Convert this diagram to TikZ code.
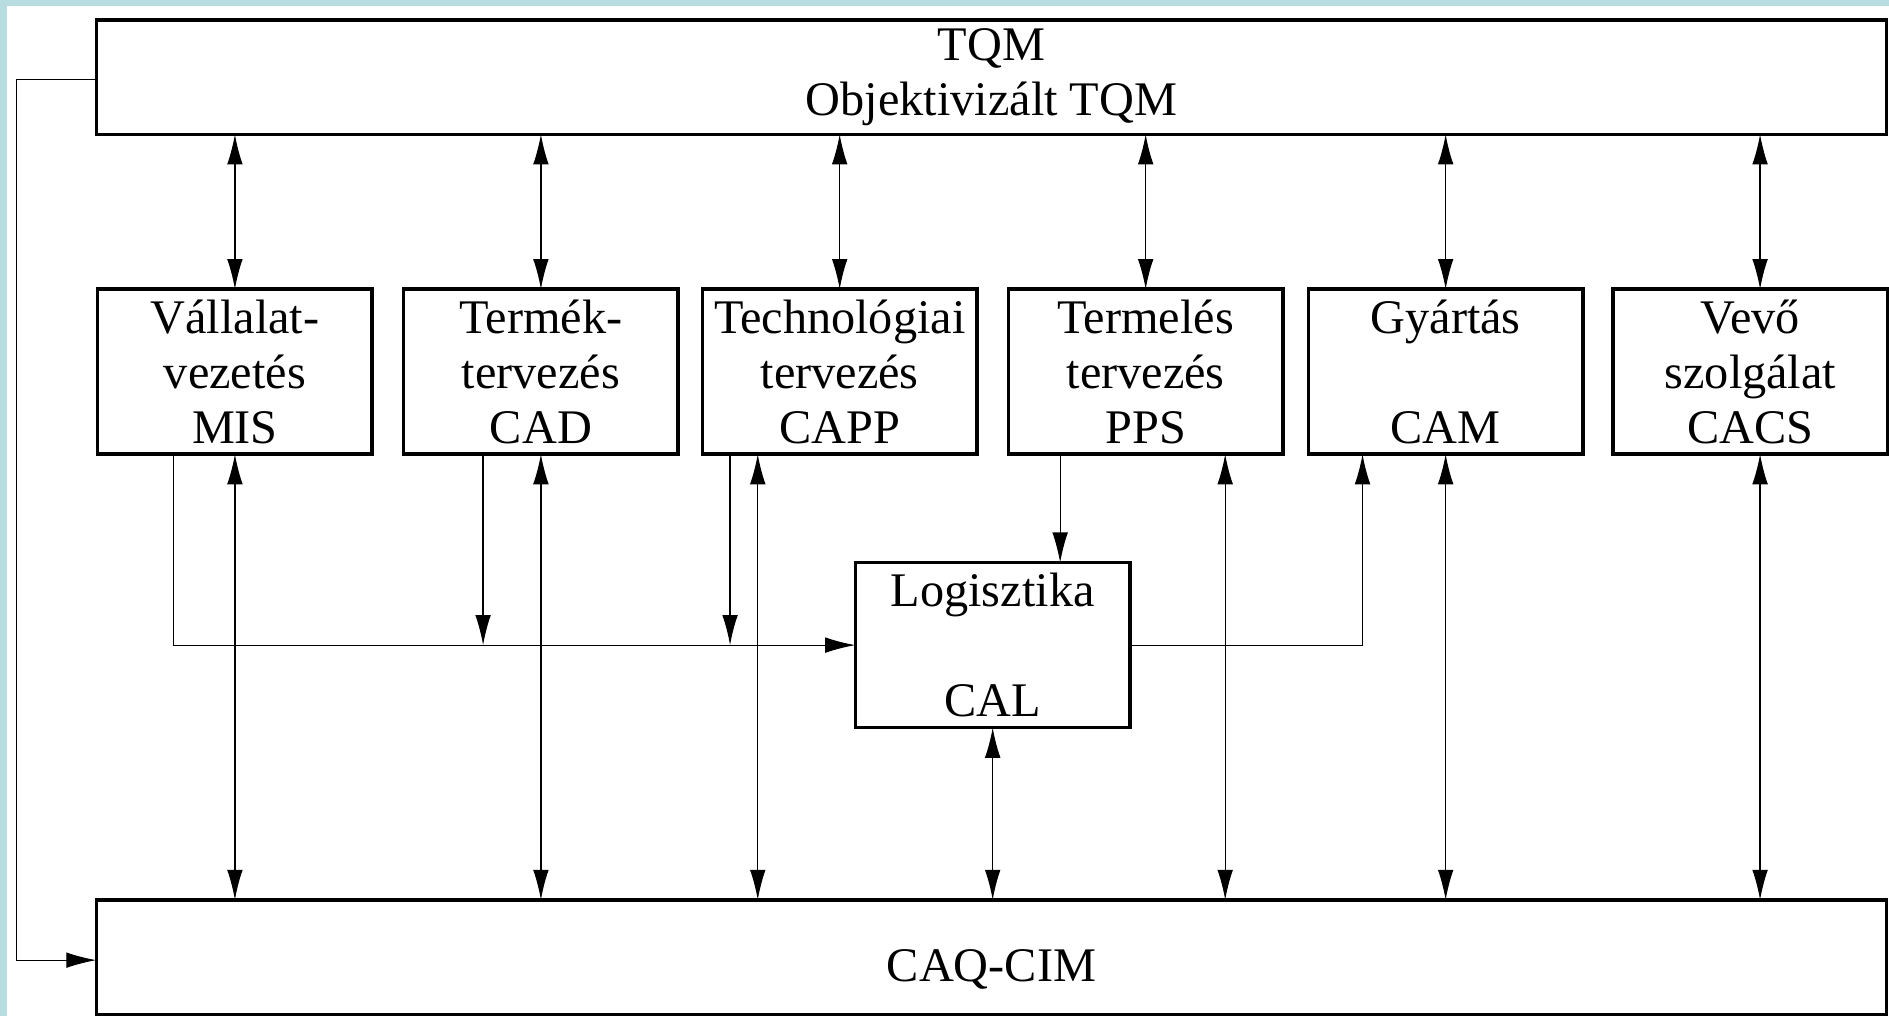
\documentclass[tikz,border=0pt]{standalone}
\usepackage{fontspec}
\setmainfont{Liberation Serif}
\usetikzlibrary{arrows.meta,positioning}
\definecolor{frame}{HTML}{B7DDE0}
\tikzset{
  unit/.style={draw=black,line width=0.3mm,fill=white,align=center,minimum width=22.8mm,minimum height=13.7mm,inner sep=0pt,outer sep=0pt,font=\fontsize{11.4}{4.55mm}\selectfont},
  bar/.style={unit,minimum width=148.6mm,minimum height=9.5mm},
  link/.style={line width=0.1mm,draw=black},
  flow/.style={link,-{Latex[length=2.5mm,width=1.3mm]}},
  both/.style={link,{Latex[length=2.5mm,width=1.3mm]}-{Latex[length=2.5mm,width=1.3mm]}}
}

\begin{document}
\begin{tikzpicture}[x=0.1mm,y=-0.1mm]
\useasboundingbox (0,0) rectangle (1568,843);
\fill[white] (0,0) rectangle (1568,843);
\fill[frame] (0,0) rectangle (6,843);
\fill[frame] (0,0) rectangle (1568,5);

\node[bar] (tqm) at (823,64) {TQM\\Objektivizált TQM};

\node[unit] (mis) at (195,308.5) {Vállalat-\\vezetés\\MIS};
\node[unit,right=2.6mm of mis] (termek) {Termék-\\tervezés\\CAD};
\node[unit,right=2.0mm of termek] (tech) {Technológiai\\tervezés\\CAPP};
\node[unit,right=2.6mm of tech] (termeles) {Termelés\\tervezés\\PPS};
\node[unit,right=2.1mm of termeles] (gyartas) {Gyártás\\~\\CAM};
\node[unit,right=2.5mm of gyartas] (vevo) {Vevő\\szolgálat\\CACS};

\node[unit] (cal) at (824,535.5) {Logisztika\\~\\CAL};

\node[bar,text height=4.9mm,text depth=0.8mm] (cim) at (823,794.5) {CAQ-CIM};

% TQM <-> functions
\foreach \n/\dx in {mis/0,termek/0,tech/0,termeles/0,gyartas/0,vevo/0.8}
  \draw[both] ([xshift=\dx mm]\n.north) -- ([xshift=\dx mm]\n.north |- tqm.south);

% functions <-> CAQ-CIM
\foreach \n/\dx in {mis/0,termek/0,tech/-6.8,termeles/6.6,gyartas/0,vevo/0.8,cal/0}
  \draw[both] ([xshift=\dx mm]\n.south) -- ([xshift=\dx mm]\n.south |- cim.north);

% flows to logistics
\draw[flow] ([xshift=-5.1mm]mis.south) |- (cal.west);
\draw[flow] ([xshift=-4.8mm]termek.south) -- ([xshift=-4.8mm]termek.south |- cal.west);
\draw[flow] ([xshift=-9.1mm]tech.south) -- ([xshift=-9.1mm]tech.south |- cal.west);
\draw[flow] ([xshift=-7.1mm]termeles.south) -- ([xshift=-7.1mm]termeles.south |- cal.north);
\draw[flow] (cal.east) -| ([xshift=-6.9mm]gyartas.south);

% TQM -> CAQ-CIM
\draw[flow] ([yshift=-0.2mm]tqm.west) -- ++(-6.6mm,0) |- ([yshift=-0.25mm]cim.west);
\end{tikzpicture}
\end{document}
